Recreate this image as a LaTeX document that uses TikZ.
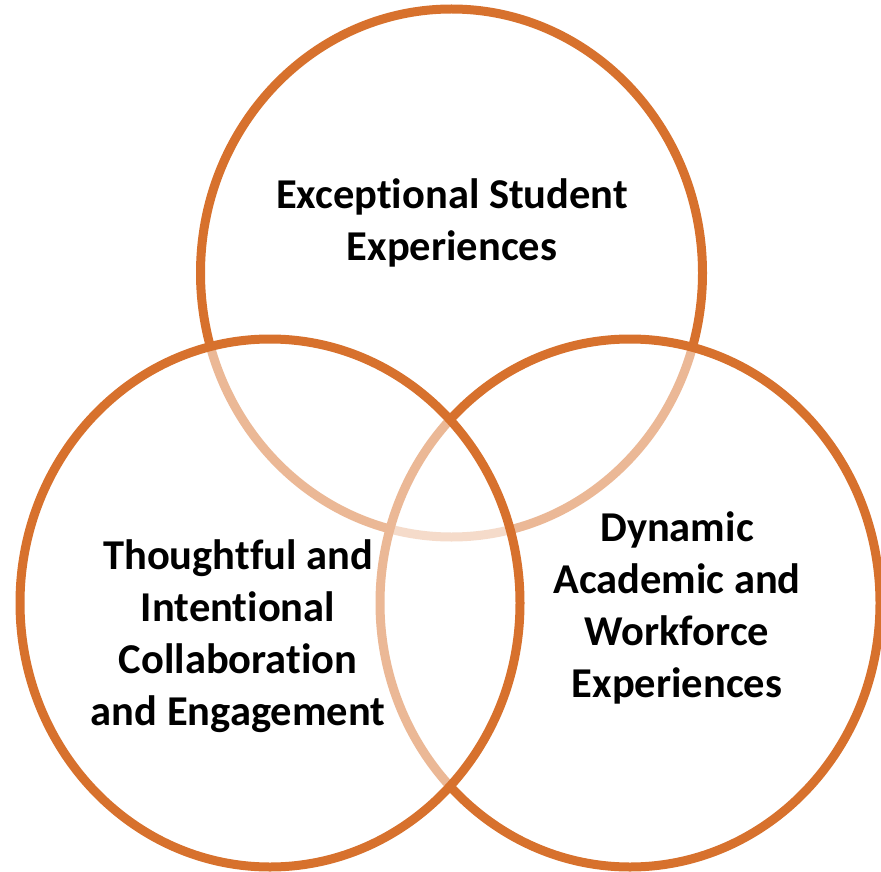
\documentclass[tikz,border=0pt]{standalone}
\usepackage{fontspec}
\setmainfont{Carlito}[Ligatures=NoCommon]
\usetikzlibrary{positioning}
\definecolor{ringorange}{RGB}{215,113,45}
\tikzset{
  ring/.style={draw=ringorange, line width=9pt, fill=white, fill opacity=0.5},
  label/.style={align=center, text=black, font=\fontsize{42.5}{52}\selectfont\bfseries}
}

\begin{document}
\begin{tikzpicture}[x=1pt, y=-1pt]
			%%%%% START %%%%%
			
			\path[use as bounding box] (0, 0) rectangle (881, 872);
			
			\coordinate (top) at (451.5, 273);
			\coordinate (right) at (630, 603);
			\coordinate (left) at (270, 603);
			
			\draw[ring] (top) ellipse [x radius=251, y radius=264];
			\draw[ring] (right) ellipse [x radius=250, y radius=264];
			\draw[ring] (left) ellipse [x radius=250, y radius=264];
			
			\node[label] (student) at (452, 223) {Exceptional Student\\Experiences};
			\node[label] (collab) at (238, 636) {Thoughtful and\\Intentional\\Collaboration\\and Engagement};
			\node[label] (dynamic) at (677, 608) {Dynamic\\Academic and\\Workforce\\Experiences};
			
			%%%%% END %%%%%
\end{tikzpicture}
\end{document}
